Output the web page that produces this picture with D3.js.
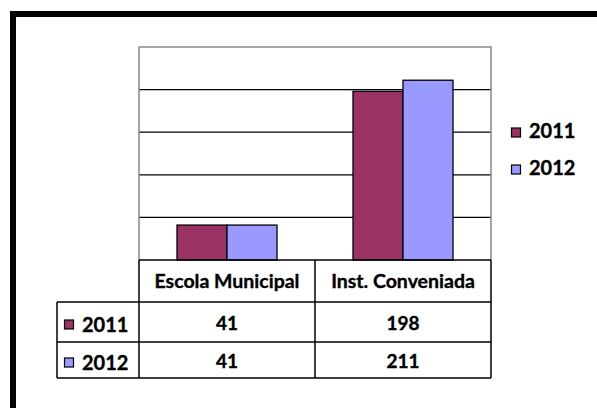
<!DOCTYPE html>
<html>
<head>
<meta charset="utf-8">
<script src="https://cdn.jsdelivr.net/npm/d3@7"></script>
<style>
  body { margin: 0; background: #fff; }
  text { font-family: Lato, "Open Sans", sans-serif; font-weight: bold; fill: #000; stroke: #000; stroke-width: 0.35px; }
</style>
</head>
<body>
<div id="chart"></div>
<script>
// Data
const categories = ["Escola Municipal", "Inst. Conveniada"];
const seriesNames = ["2011", "2012"];
const values2011 = [41, 198];
const values2012 = [41, 211];
const yTicks = [0, 50, 100, 150, 200, 250];

const colors = {"2011": "#993366", "2012": "#9999FF"};
const seriesValues = {"2011": values2011, "2012": values2012};

const W = 597, H = 408;
const plot = {left: 139, right: 491, top: 47, bottom: 260};
const rowEdges = [260, 302, 342, 378];
const tableLeft = 57;

const svg = d3.select("#chart").append("svg")
    .attr("width", W)
    .attr("height", H);

// Outer frame (cropped at right and bottom)
svg.append("path")
    .attr("d", `M13,${H + 5} V14 H${W + 5}`)
    .attr("fill", "none")
    .attr("stroke", "#000")
    .attr("stroke-width", 6);

// Scales
const x0 = d3.scaleBand()
    .domain(categories)
    .range([plot.left, plot.right]);
const x1 = d3.scaleBand()
    .domain(seriesNames)
    .range([0, 100]);
const y = d3.scaleLinear()
    .domain([0, 250])
    .range([plot.bottom, plot.top]);

// Gridlines
svg.append("g")
    .selectAll("line")
    .data(yTicks.slice(1, -1))
    .enter()
    .append("line")
    .attr("x1", plot.left)
    .attr("x2", plot.right)
    .attr("y1", d => y(d))
    .attr("y2", d => y(d))
    .attr("stroke", "#000")
    .attr("stroke-width", 1.3);

// Plot area border (left, top, right)
svg.append("path")
    .attr("d", `M${plot.left},${plot.bottom} V${y(250)} H${plot.right} V${plot.bottom}`)
    .attr("fill", "none")
    .attr("stroke", "#888")
    .attr("stroke-width", 1.5);

// Bars
const groups = svg.selectAll(".grp")
    .data(categories)
    .enter()
    .append("g")
    .attr("transform", d => `translate(${x0(d) + x0.bandwidth() / 2 - 50},0)`);

groups.selectAll("rect")
    .data((c, i) => seriesNames.map(s => ({s, v: seriesValues[s][i]})))
    .enter()
    .append("rect")
    .attr("x", d => x1(d.s))
    .attr("width", x1.bandwidth())
    .attr("y", d => y(d.v))
    .attr("height", d => plot.bottom - y(d.v))
    .attr("fill", d => colors[d.s])
    .attr("stroke", "#000")
    .attr("stroke-width", 1.3);

// Data table
const table = svg.append("g")
    .attr("stroke", "#000")
    .attr("stroke-width", 1.5)
    .attr("fill", "none");

// horizontal lines
table.append("line").attr("x1", plot.left).attr("x2", plot.right).attr("y1", rowEdges[0]).attr("y2", rowEdges[0]);
rowEdges.slice(1).forEach(r => {
    table.append("line").attr("x1", tableLeft).attr("x2", plot.right).attr("y1", r).attr("y2", r);
});
// vertical lines
table.append("line").attr("x1", tableLeft).attr("x2", tableLeft).attr("y1", rowEdges[1]).attr("y2", rowEdges[3]);
[plot.left, x0(categories[1]), plot.right].forEach(xv => {
    table.append("line").attr("x1", xv).attr("x2", xv).attr("y1", rowEdges[0]).attr("y2", rowEdges[3]);
});

// header labels
svg.selectAll(".hdr")
    .data(categories)
    .enter()
    .append("text")
    .attr("x", d => x0(d) + x0.bandwidth() / 2)
    .attr("y", 288)
    .attr("text-anchor", "middle")
    .style("font-size", "19.5px")
    .text(d => d);

const rowBase = [330, 368];
seriesNames.forEach((s, si) => {
    // key + series label
    svg.append("rect")
        .attr("x", 64.5)
        .attr("y", rowBase[si] - 10)
        .attr("width", 9)
        .attr("height", 9)
        .attr("fill", colors[s])
        .attr("stroke", "#000")
        .attr("stroke-width", 1.2);
    svg.append("text")
        .attr("x", 82)
        .attr("y", rowBase[si] + 1.5)
        .style("font-size", "20px")
        .text(s);
    // values
    categories.forEach((c, ci) => {
        svg.append("text")
            .attr("x", x0(c) + x0.bandwidth() / 2)
            .attr("y", rowBase[si])
            .attr("text-anchor", "middle")
            .style("font-size", "19px")
            .text(seriesValues[s][ci]);
    });
});

// Legend
const legendBase = [138, 175];
seriesNames.forEach((s, si) => {
    svg.append("rect")
        .attr("x", 511.5)
        .attr("y", legendBase[si] - 10)
        .attr("width", 9)
        .attr("height", 9)
        .attr("fill", colors[s])
        .attr("stroke", "#000")
        .attr("stroke-width", 1.2);
    svg.append("text")
        .attr("x", 529)
        .attr("y", legendBase[si])
        .style("font-size", "20px")
        .text(s);
});
</script>
</body>
</html>
